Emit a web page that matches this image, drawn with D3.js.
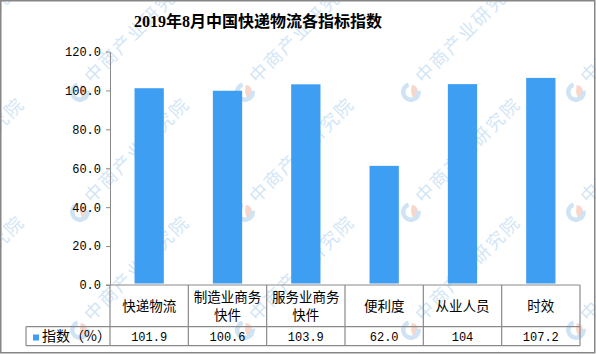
<!DOCTYPE html>
<html>
<head>
<meta charset="utf-8">
<script src="https://cdn.jsdelivr.net/npm/d3@7"></script>
<style>
  body { margin: 0; background: #fff; }
  svg { display: block; }
</style>
</head>
<body>
<div id="container"></div>
<script>
// data
let categories = ["快递物流", "制造业商务\n快件", "服务业商务\n快件", "便利度", "从业人员", "时效"];
let values = [101.9, 100.6, 103.9, 62.0, 104, 107.2];
let valueLabels = ["101.9", "100.6", "103.9", "62.0", "104", "107.2"];
let yTicks = [0, 20, 40, 60, 80, 100, 120];
let seriesName = "指数（%）";
let title = "2019年8月中国快递物流各指标指数";

let w = 596;
let h = 354;
let plotLeft = 110, plotRight = 580, plotTop = 51.5, plotBottom = 285;
let headRow = 326.7, tableBottom = 345.7, tableLeft = 26;
let barColor = "#3e9ef2";
let lineColor = "#8a8a8a";
let cjk = "'Noto Sans CJK SC', 'Noto Sans', sans-serif";
let mono = "'Liberation Mono', 'DejaVu Sans Mono', monospace";

let viz = d3.select("#container")
  .append("svg")
  .attr("width", w)
  .attr("height", h);

// watermark, kept inside the frame
viz.append("clipPath").attr("id", "frame")
  .append("rect").attr("width", w).attr("height", h);
let wm = viz.append("g").attr("class", "watermark").attr("clip-path", "url(#frame)");
let wmCols = [-85, 80, 245, 411, 576];
let wmRows = [92, 212, 330];
wmRows.forEach(function (ly) {
  wmCols.forEach(function (lx) {
    let g = wm.append("g").attr("transform", "translate(" + lx + "," + ly + ")");
    g.append("path")
      .attr("d", d3.arc().innerRadius(0).outerRadius(7).startAngle(0.1)(({ endAngle: Math.PI * 0.9 })))
      .attr("fill", "#f8d6cb");
    g.append("path")
      .attr("d", d3.arc().innerRadius(5.5).outerRadius(10).startAngle(Math.PI * 0.45).endAngle(Math.PI * 1.9)())
      .attr("fill", "#cfe3f4");
    g.append("text")
      .attr("transform", "translate(12,-8) rotate(-45)")
      .attr("font-family", cjk)
      .attr("font-size", 18)
      .attr("letter-spacing", 2)
      .attr("fill", "#d3e6f6")
      .text("中商产业研究院");
  });
});

// title
viz.append("text")
  .attr("x", 258)
  .attr("y", 27)
  .attr("text-anchor", "middle")
  .attr("font-family", "'Liberation Serif', " + cjk)
  .attr("font-size", 16)
  .attr("font-weight", "bold")
  .attr("fill", "#000")
  .text(title);

let xScale = d3.scaleBand().domain(categories).range([plotLeft, plotRight]).paddingInner(0).paddingOuter(0);
let yScale = d3.scaleLinear().domain([0, 120]).range([plotBottom, plotTop]);

// y axis
let yAxis = d3.axisLeft(yScale)
  .tickValues(yTicks)
  .tickFormat(d3.format(".1f"))
  .tickSize(4)
  .tickSizeOuter(0)
  .tickPadding(5);
let yAxisGroup = viz.append("g")
  .attr("class", "yaxisgroup")
  .attr("transform", "translate(" + plotLeft + ",0)")
  .call(yAxis);
yAxisGroup.select(".domain").attr("stroke", lineColor);
yAxisGroup.selectAll(".tick line").attr("stroke", lineColor);
yAxisGroup.selectAll(".tick text")
  .attr("font-family", mono)
  .attr("font-size", 12)
  .attr("fill", "#000");

// bars
let bw = 29.3;
viz.append("g").attr("class", "graphGroup")
  .selectAll(".datapoint")
  .data(values)
  .enter()
  .append("rect")
  .attr("class", "datapoint")
  .attr("fill", barColor)
  .attr("x", function (d, i) { return xScale(categories[i]) + xScale.bandwidth() / 2 - bw / 2; })
  .attr("width", bw)
  .attr("y", function (d) { return yScale(d) + 1.5; })
  .attr("height", function (d) { return yScale(0) - yScale(d) - 3; });

// data table
let table = viz.append("g").attr("class", "table")
  .attr("stroke", lineColor)
  .attr("stroke-width", 1.2);
table.append("line").attr("x1", plotLeft - 4).attr("x2", plotRight).attr("y1", plotBottom).attr("y2", plotBottom);
table.append("line").attr("x1", tableLeft).attr("x2", plotRight).attr("y1", headRow).attr("y2", headRow);
table.append("line").attr("x1", tableLeft).attr("x2", plotRight).attr("y1", tableBottom).attr("y2", tableBottom);
table.append("line").attr("x1", tableLeft).attr("x2", tableLeft).attr("y1", headRow).attr("y2", tableBottom);
let edges = categories.map(function (c) { return xScale(c); }).concat([plotRight]);
table.selectAll(".vline").data(edges).enter()
  .append("line")
  .attr("class", "vline")
  .attr("x1", function (d) { return d; })
  .attr("x2", function (d) { return d; })
  .attr("y1", plotBottom)
  .attr("y2", tableBottom);

// category labels
let catText = viz.append("g").selectAll(".cat").data(categories).enter()
  .append("text")
  .attr("class", "cat")
  .attr("text-anchor", "middle")
  .attr("font-family", cjk)
  .attr("font-size", 13.5)
  .attr("fill", "#000");
catText.each(function (d) {
  let lines = d.split("\n");
  let cx = xScale(d) + xScale.bandwidth() / 2;
  let mid = (plotBottom + headRow) / 2;
  let start = mid - (lines.length - 1) * 9;
  d3.select(this).selectAll("tspan").data(lines).enter()
    .append("tspan")
    .attr("x", cx)
    .attr("y", function (l, j) { return start + j * 18; })
    .attr("dy", "0.36em")
    .text(function (l) { return l; });
});

// values row
viz.append("g").selectAll(".val").data(valueLabels).enter()
  .append("text")
  .attr("class", "val")
  .attr("x", function (d, i) { return xScale(categories[i]) + xScale.bandwidth() / 2; })
  .attr("y", (headRow + tableBottom) / 2)
  .attr("dy", "0.36em")
  .attr("text-anchor", "middle")
  .attr("font-family", mono)
  .attr("font-size", 12)
  .attr("fill", "#000")
  .text(function (d) { return d; });

// legend key
viz.append("rect")
  .attr("x", 33).attr("y", 334.5)
  .attr("width", 6).attr("height", 6)
  .attr("fill", barColor);
viz.append("text")
  .attr("x", 42)
  .attr("y", (headRow + tableBottom) / 2)
  .attr("dy", "0.36em")
  .attr("font-family", cjk)
  .attr("font-size", 14)
  .attr("fill", "#000")
  .text(seriesName);

// outer border
viz.append("rect")
  .attr("x", 0.75).attr("y", 0.75)
  .attr("width", 594).attr("height", 352)
  .attr("fill", "none")
  .attr("stroke", "#868686")
  .attr("stroke-width", 1.5);
</script>
</body>
</html>
